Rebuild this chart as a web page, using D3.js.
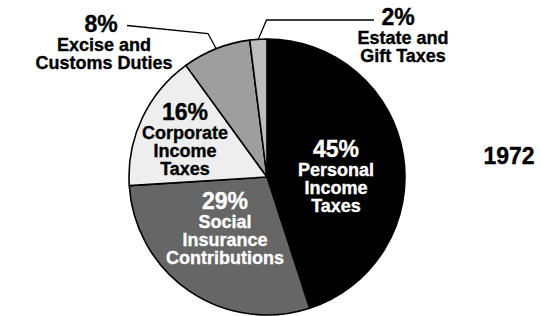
<!DOCTYPE html>
<html>
<head>
<meta charset="utf-8">
<script src="https://cdn.jsdelivr.net/npm/d3@7"></script>
<style>
  body { margin: 0; background: #fff; }
  svg text { font-family: "Liberation Sans", Arial, Helvetica, sans-serif; font-weight: bold; stroke-width: 0.35; }
</style>
</head>
<body>
<svg id="chart" width="541" height="316"></svg>
<script>
// data
const categories = ["Personal Income Taxes", "Social Insurance Contributions", "Corporate Income Taxes", "Excise and Customs Duties", "Estate and Gift Taxes"];
const shares = [45, 29, 16, 8, 2];
const labelLines = [
  ["Personal", "Income", "Taxes"],
  ["Social", "Insurance", "Contributions"],
  ["Corporate", "Income", "Taxes"],
  ["Excise and", "Customs Duties"],
  ["Estate and", "Gift Taxes"]
];
const yearLabel = "1972";

// look
const fills = ["#000000", "#666666", "#eeeeee", "#9e9e9e", "#bdbdbd"];
const textFill = ["#fff", "#fff", "#000", "#000", "#000"];
// label placement: centre x, baseline of the percentage line
const labelAt = [
  {x: 336, y: 156.5},
  {x: 225, y: 208.5},
  {x: 185, y: 119.5},
  {x: 104, y: 31.5, px: 101},
  {x: 403, y: 25, px: 398}
];
// leader line elbows for the outside labels
const leaders = {
  3: [[208, 33.5], [127, 25.5]],
  4: [[266.5, 20], [374, 20]]
};

const cx = 267, cy = 177, radius = 138;

const svg = d3.select("#chart");
const g = svg.append("g").attr("transform", `translate(${cx},${cy})`);

const data = categories.map((name, i) => ({name: name, value: shares[i], i: i}));

const pie = d3.pie().sort(null).value(d => d.value).startAngle(0).endAngle(2 * Math.PI);
const arc = d3.arc().innerRadius(0).outerRadius(radius);
const edge = d3.arc().innerRadius(radius).outerRadius(radius);

const arcs = pie(data);

g.selectAll(".slice")
  .data(arcs)
  .enter().append("path")
  .attr("class", "slice")
  .attr("d", arc)
  .attr("fill", d => fills[d.data.i])
  .attr("stroke", "#000")
  .attr("stroke-width", 1.6)
  .attr("stroke-linejoin", "round");

// leader lines
arcs.filter(d => leaders[d.data.i]).forEach(d => {
  const p = edge.centroid(d);
  const pts = [[p[0] + cx, p[1] + cy]].concat(leaders[d.data.i]);
  svg.append("path")
    .attr("d", d3.line()(pts))
    .attr("fill", "none")
    .attr("stroke", "#000")
    .attr("stroke-width", 1.3);
});

// labels
const lab = svg.selectAll(".lab")
  .data(arcs)
  .enter().append("g")
  .attr("class", "lab");

lab.append("text")
  .attr("x", d => labelAt[d.data.i].px || labelAt[d.data.i].x)
  .attr("y", d => labelAt[d.data.i].y)
  .attr("text-anchor", "middle")
  .attr("font-size", 23)
  .attr("fill", d => textFill[d.data.i])
  .attr("stroke", d => textFill[d.data.i])
  .text(d => d.data.value + "%");

lab.each(function(d) {
  const pos = labelAt[d.data.i];
  d3.select(this).selectAll(".line")
    .data(labelLines[d.data.i])
    .enter().append("text")
    .attr("class", "line")
    .attr("x", pos.x)
    .attr("y", (t, k) => pos.y + 19 + k * 18.3)
    .attr("text-anchor", "middle")
    .attr("font-size", 18)
    .attr("fill", textFill[d.data.i])
    .attr("stroke", textFill[d.data.i])
    .text(t => t);
});

svg.append("text")
  .attr("x", 509)
  .attr("y", 163.5)
  .attr("text-anchor", "middle")
  .attr("font-size", 23)
  .attr("fill", "#000")
  .attr("stroke", "#000")
  .text(yearLabel);
</script>
</body>
</html>
